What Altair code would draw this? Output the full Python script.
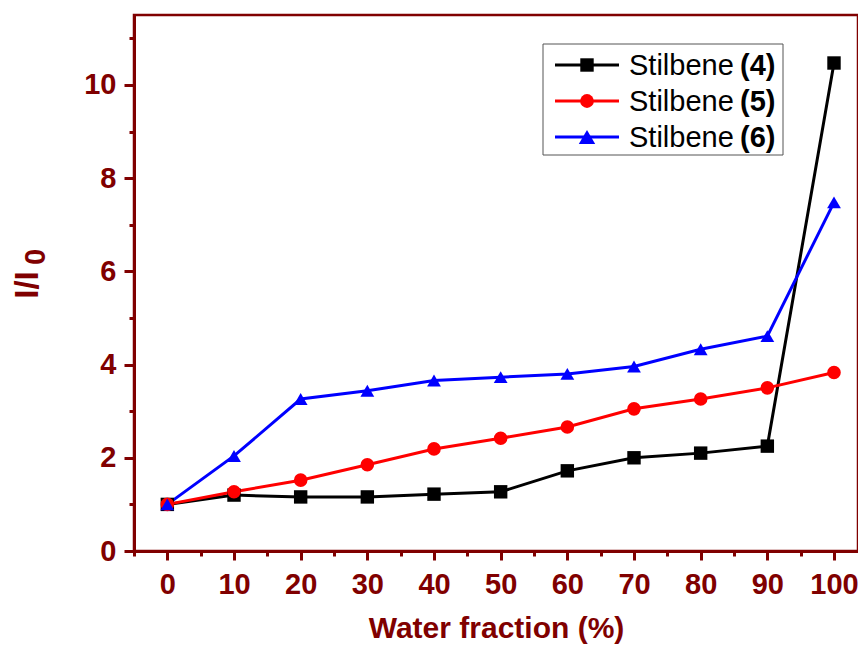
import altair as alt
import pandas as pd

water = [0, 10, 20, 30, 40, 50, 60, 70, 80, 90, 100]
s4 = [1.0, 1.20, 1.16, 1.16, 1.22, 1.27, 1.72, 2.00, 2.10, 2.25, 10.47]
s5 = [1.0, 1.27, 1.52, 1.85, 2.19, 2.42, 2.66, 3.05, 3.26, 3.50, 3.83]
s6 = [1.0, 2.04, 3.26, 3.44, 3.66, 3.73, 3.80, 3.96, 4.33, 4.61, 7.48]
names = ["Stilbene (4)", "Stilbene (5)", "Stilbene (6)"]
numbers = ["(4)", "(5)", "(6)"]
colors = ["#000000", "#ff0000", "#0000ff"]
shapes = ["square", "circle", "triangle-up"]
marker_sizes = [180, 190, 270]

rows = []
for name, vals in zip(names, [s4, s5, s6]):
    for w, v in zip(water, vals):
        rows.append({"water": w, "ratio": v, "series": name})
df = pd.DataFrame(rows)

AX = "#800000"
FONT = "Liberation Sans"

x_enc = alt.X(
    "water:Q",
    scale=alt.Scale(domain=[-5, 103.6], nice=False, zero=False),
    axis=alt.Axis(
        title="Water fraction (%)",
        values=list(range(-5, 101, 5)),
        labelExpr="(datum.value % 10 === 0 && datum.value >= 0 && datum.value <= 100) ? datum.label : ''",
        tickSize={"condition": {"test": "datum.value % 10 === 0", "value": 9}, "value": 5},
        labelPadding=10,
        titlePadding=14,
    ),
)
y_enc = alt.Y(
    "ratio:Q",
    scale=alt.Scale(domain=[0, 11.5], nice=False),
    axis=alt.Axis(
        title=None,
        values=list(range(0, 12)),
        labelExpr="datum.value % 2 === 0 ? datum.label : ''",
        tickSize={"condition": {"test": "datum.value % 2 === 0", "value": 10}, "value": 5},
        labelPadding=8,
    ),
)
color_enc = alt.Color("series:N", scale=alt.Scale(domain=names, range=colors), legend=None)
shape_enc = alt.Shape("series:N", scale=alt.Scale(domain=names, range=shapes), legend=None)
size_enc = alt.Size("series:N", scale=alt.Scale(domain=names, range=marker_sizes), legend=None)

base = alt.Chart(df)
lines = base.mark_line(strokeWidth=3).encode(x=x_enc, y=y_enc, color=color_enc, detail="series:N")
points = base.mark_point(filled=True, opacity=1).encode(
    x=x_enc, y=y_enc, color=color_enc, shape=shape_enc, size=size_enc
)

# y-axis title with subscript, drawn as text
title_df = pd.DataFrame({"main": ["I/I"], "sub": ["0"]})
ytitle_main = alt.Chart(title_df).mark_text(
    angle=270, align="center", baseline="middle", font=FONT, fontSize=33,
    fontWeight="bold", color=AX
).encode(x=alt.value(-106), y=alt.value(270), text="main:N")
ytitle_sub = alt.Chart(title_df).mark_text(
    angle=270, align="center", baseline="middle", font=FONT, fontSize=29,
    fontWeight="bold", color=AX
).encode(x=alt.value(-98), y=alt.value(242), text="sub:N")

# legend drawn by hand
leg_df = pd.DataFrame({"series": names, "num": numbers})
box = alt.Chart(leg_df.head(1)).mark_rect(fill="white", stroke="#555555", strokeWidth=1).encode(
    x=alt.value(409), x2=alt.value(649), y=alt.value(29), y2=alt.value(140)
)
layers = [lines, points, ytitle_main, ytitle_sub, box]
row_y = [50, 86, 122]
for i, name in enumerate(names):
    sub = alt.Chart(leg_df.iloc[[i]])
    layers.append(sub.mark_rule(color=colors[i], strokeWidth=3).encode(
        x=alt.value(421), x2=alt.value(485), y=alt.value(row_y[i])))
    layers.append(sub.mark_point(filled=True, size=marker_sizes[i], opacity=1,
                                 color=colors[i], shape=shapes[i]).encode(
        x=alt.value(453), y=alt.value(row_y[i])))
    layers.append(sub.mark_text(text="Stilbene", align="left", baseline="middle", font=FONT,
                                fontSize=29, color="black").encode(x=alt.value(495), y=alt.value(row_y[i] + 1)))
    layers.append(sub.mark_text(align="left", baseline="middle", font=FONT, fontSize=29,
                                fontWeight="bold", color="black").encode(
        x=alt.value(606), y=alt.value(row_y[i] + 1), text="num:N"))

chart = alt.layer(*layers).properties(
    width=724, height=536,
    autosize=alt.AutoSizeParams(type="none"),
    padding={"left": 126, "top": 7, "right": 0, "bottom": 95},
).configure_view(
    stroke=AX, strokeWidth=2.5
).configure_axis(
    domainColor=AX, domainWidth=3, tickColor=AX, tickWidth=3,
    labelColor=AX, labelFont=FONT, labelFontSize=29, labelFontWeight="bold",
    titleColor=AX, titleFont=FONT, titleFontSize=30, titleFontWeight="bold",
    grid=False,
)

chart.save("out.html", embed_options={"renderer": "svg", "actions": False})
